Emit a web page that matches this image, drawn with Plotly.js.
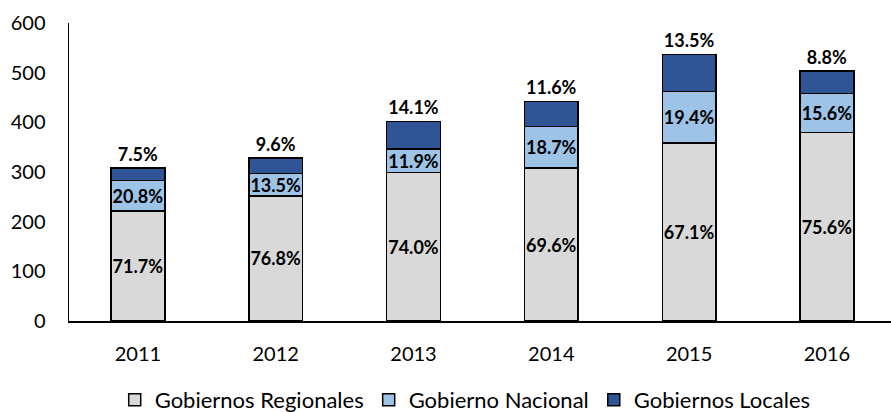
<!DOCTYPE html>
<html>
<head>
<meta charset="utf-8">
<script src="https://cdn.plot.ly/plotly-3.0.1.min.js"></script>
<style>html,body{margin:0;padding:0;background:#fff;}#chart{width:891px;height:412px;}</style>
</head>
<body>
<div id="chart"></div>
<script>
const years = ['2011', '2012', '2013', '2014', '2015', '2016'];
const regionales = [221, 252, 299, 308, 358, 380];
const nacional = [62, 45, 47, 84, 104, 78];
const locales = [25, 31, 56, 50, 75, 45];
const pctRegionales = ['71.7%', '76.8%', '74.0%', '69.6%', '67.1%', '75.6%'];
const pctNacional = ['20.8%', '13.5%', '11.9%', '18.7%', '19.4%', '15.6%'];
const pctLocales = ['7.5%', '9.6%', '14.1%', '11.6%', '13.5%', '8.8%'];
const yTicks = [0, 100, 200, 300, 400, 500, 600];

const FONT = 'Lato, "Open Sans", sans-serif';
const labelFont = {family: FONT, size: 18, color: '#000', weight: 'bold'};
const outline = {color: '#000', width: 1.5};

function barTrace(name, y, text, color, pos) {
  return {
    type: 'bar', name: name, x: years, y: y, text: text,
    textposition: pos, insidetextanchor: 'middle', constraintext: 'none', textangle: 0,
    textfont: labelFont, insidetextfont: labelFont, outsidetextfont: labelFont,
    marker: {color: color, line: outline},
    cliponaxis: false, hoverinfo: 'skip'
  };
}

const data = [
  barTrace('Gobiernos Regionales', regionales, pctRegionales, '#d9d9d9', 'inside'),
  barTrace('Gobierno Nacional', nacional, pctNacional, '#9dc3e6', 'inside'),
  barTrace('Gobiernos Locales', locales, pctLocales, '#2f5597', 'outside')
];

const layout = {
  width: 891, height: 412,
  margin: {l: 69, r: 0, t: 23, b: 91, autoexpand: false},
  barmode: 'stack', bargap: 0.61,
  paper_bgcolor: '#fff', plot_bgcolor: '#fff',
  font: {family: FONT, size: 20, color: '#000'},
  showlegend: true,
  legend: {orientation: 'h', x: 0.482, xanchor: 'center', y: -0.265, yanchor: 'middle',
           traceorder: 'normal', itemwidth: 30, font: {family: FONT, size: 22, color: '#000'}},
  xaxis: {type: 'category', range: [-0.5, 5.465], showgrid: false, showline: true,
          linecolor: '#000', linewidth: 1.5, ticks: '', ticklabelstandoff: 14,
          tickfont: {family: FONT, size: 20}},
  yaxis: {range: [0, 600], tickvals: yTicks, showgrid: false, zeroline: false, showline: true,
          linecolor: '#000', linewidth: 1.5, ticks: '', ticklabelstandoff: 18,
          tickfont: {family: FONT, size: 20}}
};

Plotly.newPlot('chart', data, layout, {staticPlot: true});
</script>
</body>
</html>
